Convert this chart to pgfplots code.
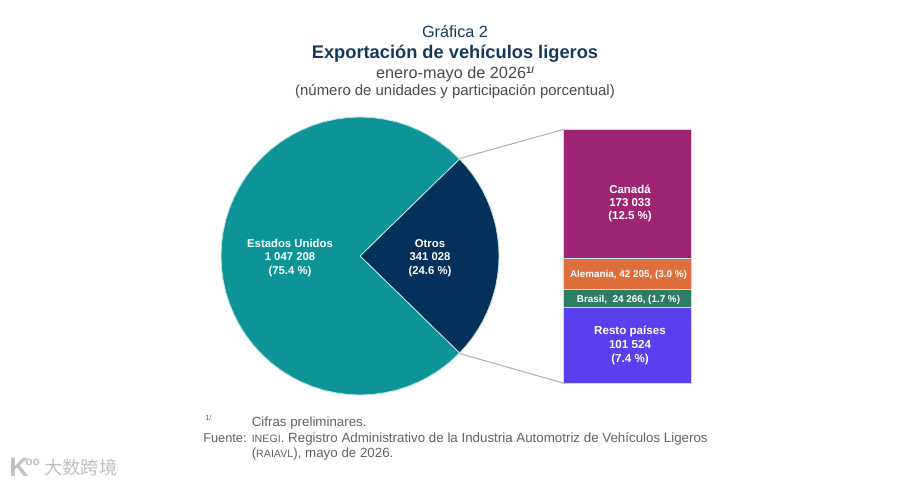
\documentclass[border=0pt]{standalone}
\usepackage{fontspec}
\setmainfont{Liberation Sans}
\newfontfamily\cjk{Noto Sans CJK SC}
\usepackage{pgfplots}
\pgfplotsset{compat=1.18}

\definecolor{teal1}{HTML}{0C9497}
\definecolor{navy1}{HTML}{04305A}
\definecolor{canada}{HTML}{9C2472}
\definecolor{alemania}{HTML}{DF6F3A}
\definecolor{brasil}{HTML}{2F7C64}
\definecolor{resto}{HTML}{5A3FEE}
\definecolor{edge}{HTML}{BFE3EA}
\definecolor{titleblue}{HTML}{163A5C}
\definecolor{txtgray}{HTML}{4A4A4A}
\definecolor{footgray}{HTML}{626262}

% axis units are pixels of the 900x485 picture, origin on the pie centre
\newcommand{\fs}[1]{\fontsize{#1}{#1}\selectfont}
\tikzset{lbl/.style={inner sep=0pt, align=center, text=white, font=\fs{8.5}\bfseries}}

\begin{document}
\begin{tikzpicture}
\path[use as bounding box] (0,0) rectangle (675pt,363.75pt);

% stacked bar, height is the 341 028 of Otros
\begin{axis}[
    at={(422.6pt,76.3pt)}, anchor=south west,
    scale only axis, width=95.6pt, height=190.5pt,
    xmin=-0.5, xmax=0.5, ymin=0, ymax=341028,
    hide axis, clip=false,
    ybar stacked, bar width=95.6pt,
]
\addplot[fill=resto, draw=edge, line width=0.6pt] coordinates {(0,101524)};
\addplot[fill=brasil, draw=edge, line width=0.6pt] coordinates {(0,24266)};
\addplot[fill=alemania, draw=edge, line width=0.6pt] coordinates {(0,42205)};
\addplot[fill=canada, draw=edge, line width=0.6pt] coordinates {(0,173033)};
\end{axis}

\begin{axis}[
    at={(0,0)}, anchor=south west,
    scale only axis, width=675pt, height=363.75pt,
    xmin=-360, xmax=540, ymin=-229, ymax=256,
    hide axis, clip=false,
]
% Otros: 341 028 (24.6 %), angles +-44.28
\addplot[data cs=polar, fill=navy1, draw=edge, line width=0.6pt] coordinates {
(0,0) (-44.28,139) (-40,139) (-36,139) (-32,139) (-28,139) (-24,139) (-20,139) (-16,139)
(-12,139) (-8,139) (-4,139) (0,139) (4,139) (8,139) (12,139) (16,139) (20,139) (24,139)
(28,139) (32,139) (36,139) (40,139) (44.28,139) (0,0)
};
% Estados Unidos: 1 047 208 (75.4 %)
\addplot[data cs=polar, fill=teal1, draw=edge, line width=0.6pt] coordinates {
(0,0) (44.28,139) (50,139) (55,139) (60,139) (65,139) (70,139) (75,139) (80,139) (85,139)
(90,139) (95,139) (100,139) (105,139) (110,139) (115,139) (120,139) (125,139) (130,139)
(135,139) (140,139) (145,139) (150,139) (155,139) (160,139) (165,139) (170,139) (175,139)
(180,139) (185,139) (190,139) (195,139) (200,139) (205,139) (210,139) (215,139) (220,139)
(225,139) (230,139) (235,139) (240,139) (245,139) (250,139) (255,139) (260,139) (265,139)
(270,139) (275,139) (280,139) (285,139) (290,139) (295,139) (300,139) (305,139) (310,139)
(315.72,139) (0,0)
};
% connector lines from the pie to the stacked bar
\addplot[gray!60, line width=0.8pt] coordinates {(99.5,97.5) (204,126.7)};
\addplot[gray!60, line width=0.8pt] coordinates {(99.5,-97.5) (204,-127.3)};

% titles
\node[inner sep=0pt, text=titleblue, font=\fs{12.2}] at (axis cs:95,224) {Gráfica 2};
\node[inner sep=0pt, text=titleblue, font=\fs{13.7}\bfseries] at (axis cs:95,202.5) {Exportación de vehículos ligeros};
\node[inner sep=0pt, text=txtgray, font=\fs{12.2}] at (axis cs:95,182) {enero-mayo de 2026\raisebox{0.55ex}{\fs{7}\bfseries 1/}};
\node[inner sep=0pt, text=txtgray, font=\fs{11.2}] at (axis cs:95,164.5) {(número de unidades y participación porcentual)};

% pie labels
\node[lbl] at (axis cs:-70,-2) {Estados Unidos\\[1.5pt]1 047 208\\[1.5pt](75.4 \%)};
\node[lbl] at (axis cs:70,-2) {Otros\\[1.5pt]341 028\\[1.5pt](24.6 \%)};

% bar labels
\node[lbl, font=\fs{8.6}\bfseries] at (axis cs:270,52.5) {Canadá\\[1.5pt]173 033\\[1.5pt](12.5 \%)};
\node[lbl, font=\fs{7.4}\bfseries] at (axis cs:268.5,-18.5) {Alemania, 42 205, (3.0 \%)};
\node[lbl, font=\fs{7.4}\bfseries] at (axis cs:268.5,-43.5) {Brasil,~ 24 266, (1.7 \%)};
\node[lbl, font=\fs{8.7}\bfseries] at (axis cs:270,-89.5) {Resto países\\[2pt]101 524\\[2pt](7.4 \%)};

% notes
\node[anchor=base west, inner sep=0pt, text=footgray, font=\fs{5.5}] at (axis cs:-155,-165) {1/};
\node[anchor=base west, inner sep=0pt, text=footgray, font=\fs{10}] at (axis cs:-108.5,-171) {Cifras preliminares.};
\node[anchor=base west, inner sep=0pt, text=footgray, font=\fs{9.6}] at (axis cs:-157,-187) {Fuente:};
\node[anchor=base west, inner sep=0pt, text=footgray, font=\fs{10}] at (axis cs:-108.5,-187) {{\fs{8}INEGI}. Registro Administrativo de la Industria Automotriz de Vehículos Ligeros};
\node[anchor=base west, inner sep=0pt, text=footgray, font=\fs{10}] at (axis cs:-108.5,-202) {({\fs{8}RAIAVL}), mayo de 2026.};

% watermark
\node[anchor=base west, inner sep=0pt, text=gray!50, font=\fs{20}\bfseries] at (axis cs:-351,-221) {K};
\node[anchor=base west, inner sep=0pt, text=gray!50, font=\fs{9}\bfseries] at (axis cs:-335,-210) {oo};
\node[anchor=base west, inner sep=0pt, text=gray!50, font=\cjk\fs{13.7}] at (axis cs:-316,-219) {大数跨境};
\end{axis}
\end{tikzpicture}
\end{document}
